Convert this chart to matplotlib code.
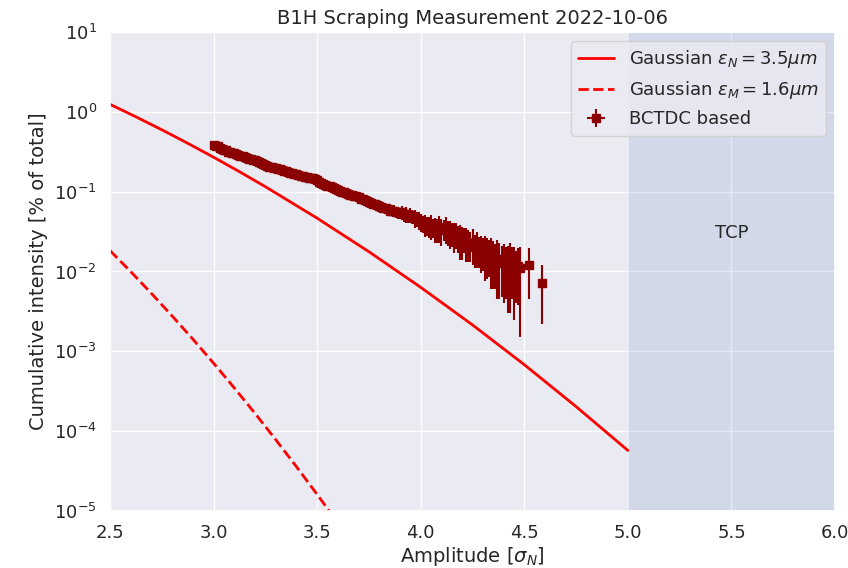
import matplotlib
matplotlib.use("Agg")
import matplotlib.pyplot as plt
import seaborn as sns

sns.set_theme(style="darkgrid")
plt.rcParams['font.family'] = ['DejaVu Sans']

# Gaussian model, eps_N = 3.5 um
gauss_n_x = [2.5, 2.625, 2.75, 2.875, 3.0, 3.125, 3.25, 3.5, 3.75, 4.0, 4.25,
             4.5, 4.75, 5.0]
gauss_n_y = [1.242, 0.866, 0.596, 0.404, 0.270, 0.1778, 0.1154, 0.0465,
             0.01768, 0.00633, 0.00214, 0.000680, 0.000203, 0.0000573]

# Gaussian model, eps_M = 1.6 um
gauss_m_x = [2.5, 2.6, 2.7, 2.8, 2.9, 3.0, 3.1, 3.2, 3.3, 3.4, 3.5, 3.6]
gauss_m_y = [0.01826, 0.00996, 0.00531, 0.00277, 0.00142, 7.10e-4, 3.48e-4,
             1.67e-4, 7.82e-5, 3.59e-5, 1.61e-5, 7.1e-6]

# BCTDC based measurement
meas_x = [3.00, 3.01, 3.02, 3.03, 3.04, 3.05, 3.06, 3.07, 3.08, 3.09,
          3.10, 3.11, 3.12, 3.13, 3.14, 3.15, 3.16, 3.17, 3.18, 3.19,
          3.20, 3.21, 3.22, 3.23, 3.24, 3.25, 3.26, 3.27, 3.28, 3.29,
          3.30, 3.31, 3.32, 3.33, 3.34, 3.35, 3.36, 3.37, 3.38, 3.39,
          3.40, 3.41, 3.42, 3.43, 3.44, 3.45, 3.46, 3.47, 3.48, 3.49,
          3.50, 3.51, 3.52, 3.53, 3.54, 3.55, 3.56, 3.57, 3.58, 3.59,
          3.60, 3.61, 3.62, 3.63, 3.64, 3.65, 3.66, 3.67, 3.68, 3.69,
          3.70, 3.71, 3.72, 3.73, 3.74, 3.75, 3.76, 3.77, 3.78, 3.79,
          3.80, 3.81, 3.82, 3.83, 3.84, 3.85, 3.86, 3.87, 3.88, 3.89,
          3.90, 3.91, 3.92, 3.93, 3.94, 3.95, 3.96, 3.97, 3.98, 3.99,
          4.00, 4.01, 4.02, 4.03, 4.04, 4.05, 4.06, 4.07, 4.08, 4.09,
          4.10, 4.11, 4.12, 4.13, 4.14, 4.15, 4.16, 4.17, 4.18, 4.19,
          4.20, 4.21, 4.22, 4.23, 4.24, 4.25, 4.26, 4.27, 4.28, 4.29,
          4.30, 4.31, 4.32, 4.33, 4.34, 4.35, 4.36, 4.37, 4.38, 4.39,
          4.40, 4.41, 4.42, 4.43, 4.44, 4.45, 4.46, 4.47, 4.48,
          4.525, 4.585]
meas_y = [0.385, 0.375, 0.368, 0.352, 0.346, 0.336, 0.331, 0.318, 0.313, 0.305,
          0.301, 0.293, 0.291, 0.281, 0.277, 0.270, 0.267, 0.260, 0.258, 0.252,
          0.249, 0.241, 0.236, 0.228, 0.222, 0.216, 0.211, 0.206, 0.203, 0.199,
          0.196, 0.193, 0.190, 0.186, 0.183, 0.179, 0.176, 0.173, 0.170, 0.167,
          0.165, 0.161, 0.158, 0.155, 0.153, 0.151, 0.149, 0.148, 0.147, 0.144,
          0.139, 0.133, 0.128, 0.125, 0.122, 0.119, 0.116, 0.113, 0.110, 0.107,
          0.104, 0.102, 0.100, 0.098, 0.096, 0.094, 0.092, 0.090, 0.088, 0.087,
          0.085, 0.082, 0.080, 0.078, 0.076, 0.075, 0.073, 0.071, 0.070, 0.069,
          0.067, 0.064, 0.063, 0.062, 0.060, 0.058, 0.057, 0.058, 0.056, 0.055,
          0.054, 0.055, 0.052, 0.053, 0.050, 0.051, 0.049, 0.047, 0.046, 0.044,
          0.042, 0.040, 0.039, 0.038, 0.037, 0.038, 0.036, 0.035, 0.034, 0.036,
          0.033, 0.034, 0.035, 0.032, 0.031, 0.030, 0.029, 0.030, 0.027, 0.026,
          0.025, 0.026, 0.024, 0.023, 0.022, 0.023, 0.020, 0.021, 0.019, 0.0185,
          0.018, 0.0175, 0.017, 0.0165, 0.016, 0.015, 0.014, 0.0145, 0.0135, 0.0128,
          0.013, 0.0125, 0.012, 0.013, 0.0125, 0.0115, 0.011, 0.0118, 0.011,
          0.012, 0.0072]
meas_err = [0.010, 0.010, 0.010, 0.009, 0.009, 0.009, 0.009, 0.009, 0.008, 0.008,
            0.008, 0.008, 0.008, 0.008, 0.007, 0.007, 0.007, 0.007, 0.007, 0.007,
            0.007, 0.007, 0.006, 0.006, 0.006, 0.006, 0.006, 0.006, 0.006, 0.006,
            0.006, 0.006, 0.006, 0.005, 0.005, 0.005, 0.005, 0.005, 0.005, 0.005,
            0.005, 0.005, 0.005, 0.005, 0.005, 0.005, 0.005, 0.005, 0.005, 0.005,
            0.005, 0.005, 0.005, 0.005, 0.005, 0.004, 0.004, 0.004, 0.004, 0.004,
            0.004, 0.004, 0.004, 0.004, 0.004, 0.004, 0.004, 0.004, 0.004, 0.004,
            0.004, 0.005, 0.004, 0.005, 0.004, 0.005, 0.005, 0.006, 0.005, 0.006,
            0.006, 0.007, 0.006, 0.008, 0.007, 0.009, 0.008, 0.010, 0.009, 0.010,
            0.009, 0.011, 0.010, 0.012, 0.009, 0.011, 0.010, 0.012, 0.010, 0.011,
            0.011, 0.010, 0.012, 0.010, 0.011, 0.013, 0.010, 0.012, 0.011, 0.013,
            0.012, 0.010, 0.013, 0.011, 0.012, 0.010, 0.012, 0.011, 0.010, 0.012,
            0.011, 0.009, 0.011, 0.010, 0.009, 0.011, 0.009, 0.010, 0.008, 0.009,
            0.008, 0.010, 0.009, 0.008, 0.010, 0.009, 0.008, 0.010, 0.009, 0.008,
            0.009, 0.008, 0.009, 0.010, 0.008, 0.009, 0.007, 0.008, 0.0095,
            0.0075, 0.005]
meas_xerr = 0.005

fig = plt.figure(figsize=(8.48, 5.68), dpi=100)
ax = fig.add_axes([0.1297, 0.1004, 0.855, 0.8433])

ax.plot(gauss_n_x, gauss_n_y, color='red', lw=2,
        label=r'Gaussian $\epsilon_N = 3.5\mu m$')
ax.plot(gauss_m_x, gauss_m_y, color='red', lw=2, ls='--',
        label=r'Gaussian $\epsilon_M = 1.6\mu m$')
ax.errorbar(meas_x, meas_y, yerr=meas_err, xerr=meas_xerr, fmt='s',
            color='darkred', markersize=6, elinewidth=1.5,
            label='BCTDC based')

ax.axvspan(5.0, 6.0, color='#4C72B0', alpha=0.15, lw=0)
ax.text(5.5, 0.03, 'TCP', ha='center', va='center', fontsize=13,
        color='#262626')

ax.set_yscale('log')
ax.set_xlim(2.5, 6.0)
ax.set_ylim(1e-5, 1e1)
ax.set_xticks([2.5, 3.0, 3.5, 4.0, 4.5, 5.0, 5.5, 6.0])
ax.tick_params(labelsize=13)
ax.set_xlabel(r'Amplitude [$\sigma_N$]', fontsize=14, labelpad=2)
ax.set_ylabel('Cumulative intensity [% of total]', fontsize=14)
ax.set_title('B1H Scraping Measurement 2022-10-06', fontsize=14)
ax.legend(loc='upper right', fontsize=13)

fig.savefig('out.png', dpi=100)
